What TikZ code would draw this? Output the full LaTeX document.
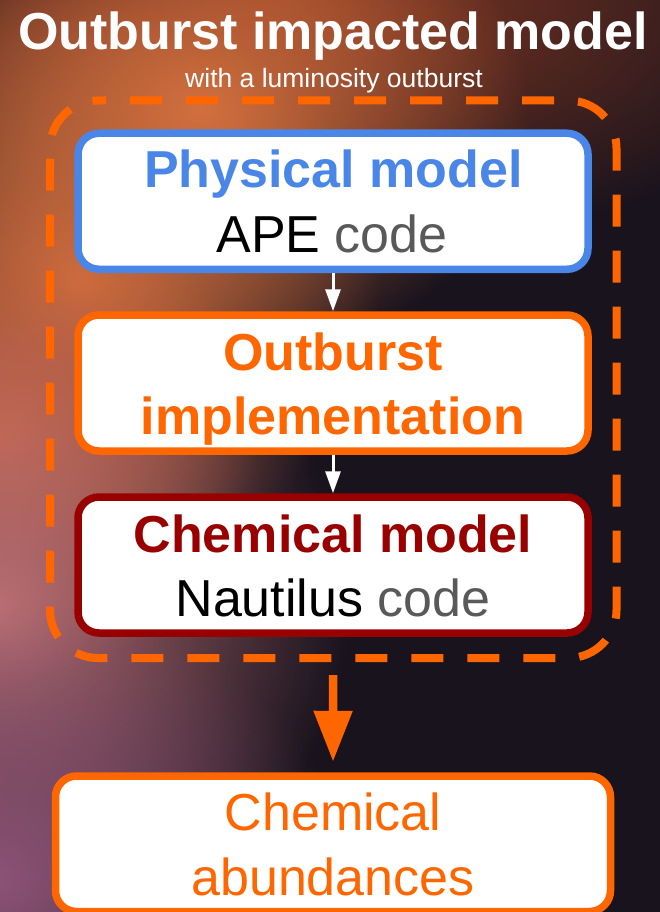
\documentclass[tikz,border=0pt]{standalone}
\usepackage{fontspec}
\setmainfont{Liberation Sans}
\usetikzlibrary{arrows.meta,fadings}
\definecolor{cblue}{HTML}{4A86E8}
\definecolor{corange}{HTML}{FF6600}
\definecolor{cred}{HTML}{990000}
\definecolor{cgray}{HTML}{595959}
\definecolor{bgdark}{HTML}{18131D}
\definecolor{glowbrown}{HTML}{8A3A22}
\definecolor{gloworange}{HTML}{D2703F}
\definecolor{glowred}{HTML}{C4623F}
\definecolor{glowpink}{HTML}{BC7076}
\definecolor{glowpurple}{HTML}{8E5478}
\tikzfading[name=glowfade, inner color=transparent!0, outer color=transparent!100]
\tikzset{
  box/.style={rounded corners=21pt, line width=7.5pt, fill=white,
    minimum width=510pt, minimum height=136pt, inner sep=0pt},
  bigtxt/.style={inner sep=0pt, anchor=base, font=\fontsize{52}{62}\selectfont},
  boldtxt/.style={bigtxt, font=\fontsize{52}{62}\selectfont\bfseries},
  smallarrow/.style={white, line width=3pt, -{Triangle[width=15pt,length=22pt]}},
  framedash/.style={corange, line width=8pt, rounded corners=48pt,
    dash pattern=on 32pt off 24pt, dash phase=24pt},
  glow/.style={fill=#1, path fading=glowfade}
}
\begin{document}
\begin{tikzpicture}[x=1pt,y=-1pt]
\useasboundingbox (0,0) rectangle (660,912);
% background
\fill[bgdark] (0,0) rectangle (660,912);
\begin{scope}
\clip (0,0) rectangle (660,912);
\path[glow=glowbrown] (280,0) ellipse [x radius=580, y radius=260];
\path[glow=gloworange] (200,110) ellipse [x radius=330, y radius=260];
\path[glow=gloworange] (80,280) ellipse [x radius=300, y radius=290];
\path[glow=glowred] (0,430) ellipse [x radius=260, y radius=250];
\path[glow=glowpink] (-10,610) ellipse [x radius=360, y radius=330];
\path[glow=glowpurple] (-10,880) ellipse [x radius=360, y radius=280];
\end{scope}
% title
\node[boldtxt, text=white] (title) at (333,50) {Outburst impacted model};
\node[inner sep=0pt, anchor=base, text=white, font=\fontsize{26.5}{30}\selectfont] (subtitle) at (334,88) {with a luminosity outburst};
% dashed frame
\node[minimum width=566.5pt, minimum height=557.5pt, inner sep=0pt, outer sep=0pt] (frame) at (333.25,379.25) {};
\draw[framedash] ([xshift=48pt]frame.north west) -- (frame.north east) -- (frame.south east) -- (frame.south west) -- (frame.north west) -- ([xshift=48pt]frame.north west);
% boxes
\node[box, draw=cblue] (phys) at (333,201.25) {};
\node[box, draw=corange] (outb) at (333,383) {};
\node[box, draw=cred] (chem) at (333,565) {};
\node[box, draw=corange, minimum width=555pt, minimum height=135.5pt] (abund) at (333,843.75) {};
% texts
\node[boldtxt, text=cblue] (physT) at (333.5,188) {Physical model};
\node[bigtxt] (physC) at (332,252) {APE \textcolor{cgray}{code}};
\node[boldtxt, text=corange] (outbT) at (333,370) {Outburst};
\node[boldtxt, text=corange] (outbC) at (333,434) {implementation};
\node[boldtxt, text=cred] (chemT) at (333,552) {Chemical model};
\node[bigtxt] (chemC) at (333,616) {Nautilus \textcolor{cgray}{code}};
\node[bigtxt, text=corange] (abT) at (333,830.7) {Chemical};
\node[bigtxt, text=corange] (abC) at (333,895) {abundances};
% arrows
\draw[smallarrow] (phys) -- (outb);
\draw[smallarrow] (outb) -- (chem);
\draw[corange, line width=8.5pt, -{Triangle[width=37pt,length=51pt]}, shorten <=17pt, shorten >=10.5pt] (frame) -- (abund);
\end{tikzpicture}
\end{document}
